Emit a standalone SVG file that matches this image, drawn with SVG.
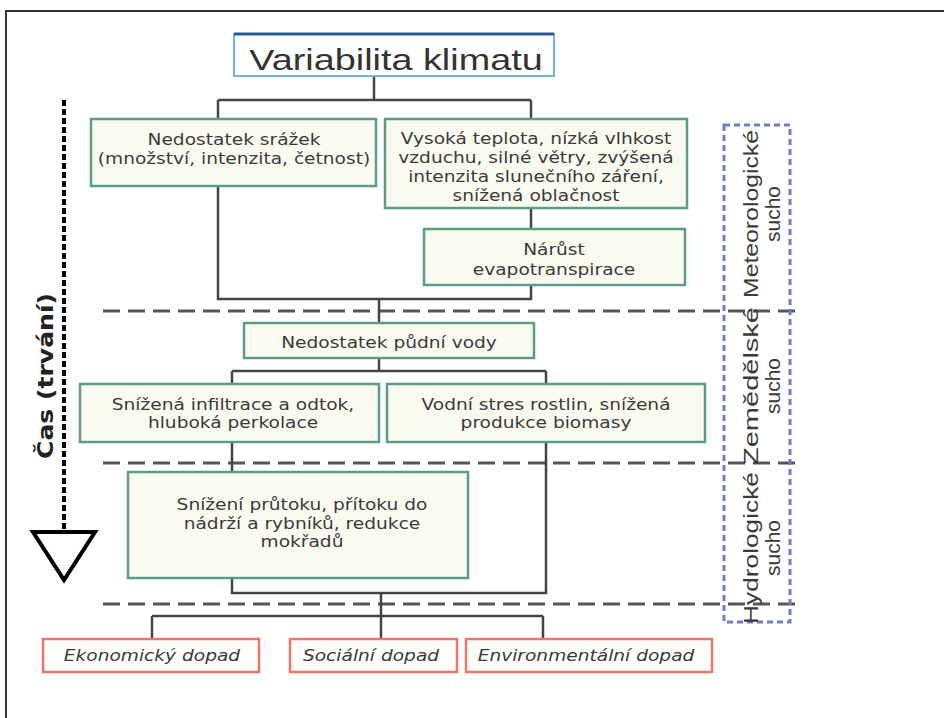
<svg xmlns="http://www.w3.org/2000/svg" width="944" height="718" viewBox="0 0 944 718">
<style>
.frame{fill:none;stroke:#333;stroke-width:2}
.box{fill:#fbfaf1;stroke:#5b9c84;stroke-width:2.5}
.imp{fill:#fffdf9;stroke:#e8776c;stroke-width:2.5}
.t{font-family:"DejaVu Sans",Verdana,sans-serif;font-size:15.5px;fill:#3a3a3a;text-anchor:middle}
.it{font-style:italic}
.conn{fill:none;stroke:#444;stroke-width:2.5}
.gdash{fill:none;stroke:#555;stroke-width:3;stroke-dasharray:17 8}
.bdash{fill:none;stroke:#6a7bd0;stroke-width:3;stroke-dasharray:6 4}
.side{font-family:"Liberation Sans",Arial,sans-serif;font-size:21px;fill:#3a3a3a;text-anchor:middle}
</style>
<rect width="944" height="718" fill="#fff"/>
<path class="frame" d="M6 718V11H944"/>

<g id="time-axis">
<line x1="64" y1="100" x2="64" y2="532" stroke="#000" stroke-width="4" stroke-dasharray="6 3"/>
<polygon points="33,532 95,532 64,580" fill="none" stroke="#000" stroke-width="4" stroke-linejoin="miter"/>
<text transform="translate(53 376) rotate(-90)" font-family="DejaVu Sans,Verdana,sans-serif" font-weight="bold" font-size="21" fill="#222" text-anchor="middle" textLength="166" lengthAdjust="spacingAndGlyphs">Čas (trvání)</text>
</g>

<g id="phase-lines">
<line class="gdash" x1="103" y1="311" x2="800" y2="311"/>
<line class="gdash" x1="103" y1="463" x2="800" y2="463"/>
<line class="gdash" x1="103" y1="604" x2="800" y2="604"/>
</g>

<g id="drought-types">
<rect class="bdash" x="724" y="125" width="66" height="497"/>
<text class="side" transform="translate(758 214) rotate(-90)" textLength="168" lengthAdjust="spacingAndGlyphs">Meteorologické</text>
<text class="side" transform="translate(780 214) rotate(-90)">sucho</text>
<text class="side" transform="translate(758 386) rotate(-90)" textLength="158" lengthAdjust="spacingAndGlyphs">Zemědělské</text>
<text class="side" transform="translate(780 386) rotate(-90)">sucho</text>
<text class="side" transform="translate(758 548) rotate(-90)" textLength="152" lengthAdjust="spacingAndGlyphs">Hydrologické</text>
<text class="side" transform="translate(780 548) rotate(-90)">sucho</text>
</g>

<g id="connectors">
<path class="conn" d="M374 76V100M218 100H531M218 100V119M531 100V119"/>
<path class="conn" d="M218 186V299H531V285M531 208V229M379 299V323"/>
<path class="conn" d="M379 358V371M232 371H546M232 371V384M546 371V384"/>
<path class="conn" d="M232 442V472M232 578V593H546V442M381 593V616"/>
<path class="conn" d="M152 616H543M152 616V639M381 616V639M543 616V639"/>
</g>

<g id="variabilita">
<rect x="234" y="34" width="320" height="42" fill="#fff" stroke="#7aaee0" stroke-width="2"/>
<line x1="234" y1="34" x2="554" y2="34" stroke="#2a5a9a" stroke-width="3"/>
<text transform="translate(396 70) scale(1.26 1)" font-family="Liberation Sans,Arial,sans-serif" font-size="30" fill="#333" text-anchor="middle">Variabilita klimatu</text>
</g>

<g id="nedostatek-srazek">
<rect class="box" x="91" y="119" width="285" height="67"/>
<text class="t" transform="translate(234 145) scale(1.2 1)"><tspan x="0">Nedostatek srážek</tspan><tspan x="0" dy="19">(množství, intenzita, četnost)</tspan></text>
</g>

<g id="vysoka-teplota">
<rect class="box" x="385" y="119" width="302" height="89"/>
<text class="t" transform="translate(536 144) scale(1.2 1)"><tspan x="0">Vysoká teplota, nízká vlhkost</tspan><tspan x="0" dy="19">vzduchu, silné větry, zvýšená</tspan><tspan x="0" dy="19">intenzita slunečního záření,</tspan><tspan x="0" dy="19">snížená oblačnost</tspan></text>
</g>

<g id="narust">
<rect class="box" x="424" y="229" width="261" height="56"/>
<text class="t" transform="translate(554 255) scale(1.2 1)"><tspan x="0">Nárůst</tspan><tspan x="0" dy="20">evapotranspirace</tspan></text>
</g>

<g id="pudni-voda">
<rect class="box" x="244" y="323" width="290" height="35"/>
<text class="t" transform="translate(389 348) scale(1.2 1)">Nedostatek půdní vody</text>
</g>

<g id="infiltrace">
<rect class="box" x="80" y="384" width="299" height="58"/>
<text class="t" transform="translate(233 410) scale(1.2 1)"><tspan x="0">Snížená infiltrace a odtok,</tspan><tspan x="0" dy="18">hluboká perkolace</tspan></text>
</g>

<g id="vodni-stres">
<rect class="box" x="387" y="384" width="318" height="58"/>
<text class="t" transform="translate(546 410) scale(1.2 1)"><tspan x="0">Vodní stres rostlin, snížená</tspan><tspan x="0" dy="18">produkce biomasy</tspan></text>
</g>

<g id="pruttok">
<rect class="box" x="128" y="472" width="340" height="106"/>
<text class="t" transform="translate(302 510) scale(1.2 1)"><tspan x="0">Snížení průtoku, přítoku do</tspan><tspan x="0" dy="19">nádrží a rybníků, redukce</tspan><tspan x="0" dy="18">mokřadů</tspan></text>
</g>

<g id="ekonomicky">
<rect class="imp" x="43" y="639" width="216" height="33"/>
<text class="t it" transform="translate(152 661) scale(1.2 1)">Ekonomický dopad</text>
</g>

<g id="socialni">
<rect class="imp" x="290" y="639" width="167" height="33"/>
<text class="t it" transform="translate(371 661) scale(1.2 1)">Sociální dopad</text>
</g>

<g id="environmentalni">
<rect class="imp" x="466" y="639" width="246" height="33"/>
<text class="t it" transform="translate(586 661) scale(1.2 1)">Environmentální dopad</text>
</g>
</svg>
